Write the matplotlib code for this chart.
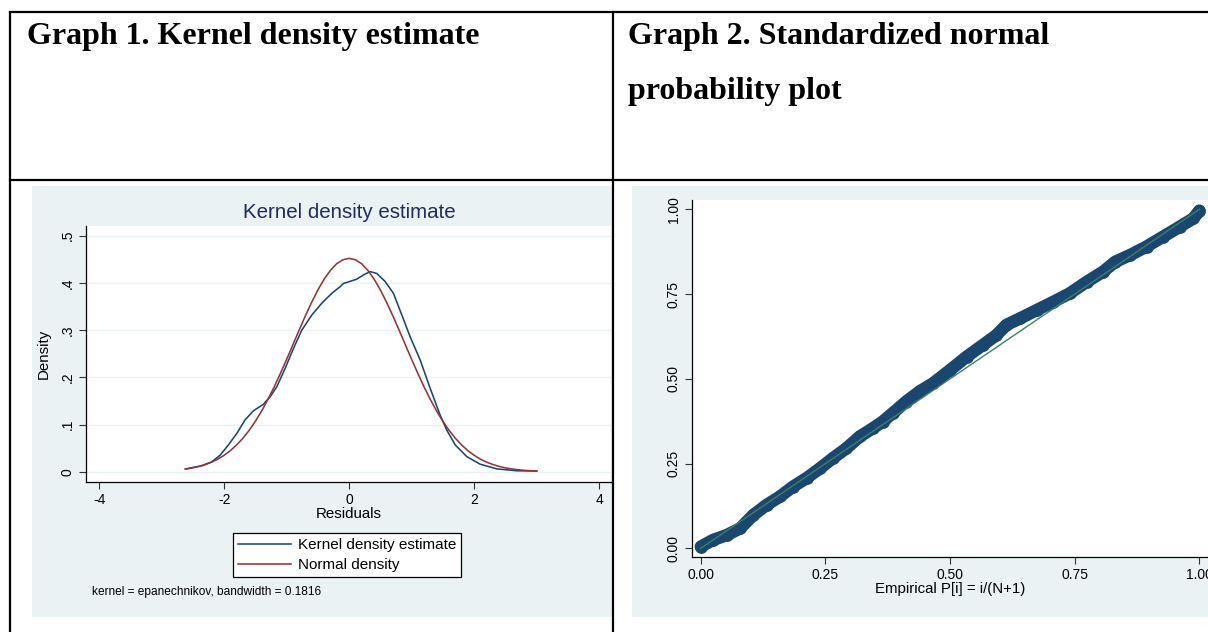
import matplotlib
matplotlib.use('Agg')
import matplotlib.pyplot as plt
from matplotlib.patches import Rectangle
from matplotlib.lines import Line2D

# ---------------- data ----------------
kernel_x = [-2.624, -2.357, -2.197, -2.064, -1.931, -1.797, -1.664, -1.531, -1.371, -1.264, -1.157,
            -1.024, -0.891, -0.757, -0.597, -0.437, -0.277, -0.144, -0.091, -0.037, 0.123, 0.229,
            0.336, 0.443, 0.576, 0.709, 0.843, 0.976, 1.136, 1.296, 1.456, 1.563, 1.696, 1.883,
            2.096, 2.363, 2.683, 3.003]
kernel_y = [0.0057, 0.0127, 0.021, 0.035, 0.057, 0.081, 0.110, 0.129, 0.143, 0.159, 0.180,
            0.219, 0.261, 0.300, 0.332, 0.357, 0.378, 0.392, 0.399, 0.401, 0.408, 0.417,
            0.424, 0.420, 0.403, 0.378, 0.332, 0.286, 0.237, 0.177, 0.120, 0.088, 0.057, 0.032,
            0.016, 0.006, 0.002, 0.0015]

normal_x = [-2.6, -2.5, -2.4, -2.3, -2.2, -2.1, -2.0, -1.9, -1.8, -1.7, -1.6, -1.5, -1.4, -1.3,
            -1.2, -1.1, -1.0, -0.9, -0.8, -0.7, -0.6, -0.5, -0.4, -0.3, -0.2, -0.1, 0.0,
            0.1, 0.2, 0.3, 0.4, 0.5, 0.6, 0.7, 0.8, 0.9, 1.0, 1.1, 1.2, 1.3, 1.4, 1.5, 1.6,
            1.7, 1.8, 1.9, 2.0, 2.1, 2.2, 2.3, 2.4, 2.5, 2.6, 2.7, 2.8, 2.9, 3.0]
normal_y = [0.0059, 0.0082, 0.0112, 0.0152, 0.0203, 0.0267, 0.0348, 0.0447, 0.0566, 0.0708,
            0.0875, 0.1068, 0.1286, 0.1529, 0.1795, 0.2081, 0.2380, 0.2689, 0.2999, 0.3302,
            0.3588, 0.3851, 0.4079, 0.4266, 0.4406, 0.4491, 0.4520,
            0.4491, 0.4406, 0.4266, 0.4079, 0.3851, 0.3588, 0.3302, 0.2999, 0.2689, 0.2380,
            0.2081, 0.1795, 0.1529, 0.1286, 0.1068, 0.0875, 0.0708, 0.0566, 0.0447, 0.0348,
            0.0267, 0.0203, 0.0152, 0.0112, 0.0082, 0.0059, 0.0042, 0.0030, 0.0021, 0.0014]

pp_x = [0.000, 0.025, 0.052, 0.079, 0.105, 0.132, 0.159, 0.185, 0.212, 0.239, 0.265, 0.292, 0.319,
        0.345, 0.365, 0.385, 0.412, 0.439, 0.466, 0.500, 0.533, 0.566, 0.593, 0.613, 0.640, 0.674,
        0.707, 0.740, 0.774, 0.807, 0.831, 0.861, 0.894, 0.927, 0.961, 0.988, 1.000]
pp_y = [0.005, 0.025, 0.039, 0.059, 0.098, 0.128, 0.153, 0.182, 0.207, 0.236, 0.266, 0.295, 0.330,
        0.354, 0.374, 0.399, 0.433, 0.463, 0.487, 0.526, 0.565, 0.600, 0.629, 0.659, 0.678, 0.703,
        0.727, 0.752, 0.786, 0.816, 0.845, 0.865, 0.890, 0.919, 0.949, 0.973, 0.996]
ref_x = [0.0, 1.0]
ref_y = [0.0, 1.0]

k_xticks = [-4, -2, 0, 2, 4]
k_xticklabels = ['-4', '-2', '0', '2', '4']
k_yticks = [0, 0.1, 0.2, 0.3, 0.4, 0.5]
k_yticklabels = ['0', '.1', '.2', '.3', '.4', '.5']
p_ticks = [0, 0.25, 0.5, 0.75, 1.0]
p_ticklabels = ['0.00', '0.25', '0.50', '0.75', '1.00']

header1 = "Graph 1. Kernel density estimate"
header2a = "Graph 2. Standardized normal"
header2b = "probability plot"

# ---------------- style ----------------
W, H = 1208, 632
NAVY = '#1a476f'
MAROON = '#90353b'
GREEN = '#3d7d6b'
BG = '#eaf2f3'
SANS = ['Liberation Sans', 'DejaVu Sans']
SERIF = ['Liberation Serif', 'DejaVu Serif']
TICK_FS = 10
LAB_FS = 10.8

fig = plt.figure(figsize=(W / 100, H / 100), dpi=100)
fig.patch.set_facecolor('white')


def fx(px):
    return px / W


def fy(py):
    return 1 - py / H


def ax_rect(x0, y0, x1, y1):
    return [fx(x0), fy(y1), (x1 - x0) / W, (y1 - y0) / H]


# panel backgrounds
fig.patches.append(Rectangle((fx(32), fy(617)), (612 - 32) / W, (617 - 186) / H,
                             transform=fig.transFigure, facecolor=BG, edgecolor='none', zorder=-5))
fig.patches.append(Rectangle((fx(632), fy(617)), (W - 632) / W, (617 - 186) / H,
                             transform=fig.transFigure, facecolor=BG, edgecolor='none', zorder=-5))

# table lines
lw_tab = 1.6
for (xa, ya, xb, yb) in [(10, 12, W, 12), (10, 180, W, 180), (10, 12, 10, H), (613, 12, 613, H)]:
    fig.add_artist(Line2D([fx(xa), fx(xb)], [fy(ya), fy(yb)], transform=fig.transFigure,
                          color='black', lw=lw_tab, zorder=5))

# headers
HFS = 23
fig.text(fx(27), fy(44), header1, fontfamily=SERIF, fontweight='bold', fontsize=HFS,
         ha='left', va='baseline')
fig.text(fx(628), fy(44), header2a, fontfamily=SERIF, fontweight='bold', fontsize=HFS,
         ha='left', va='baseline')
fig.text(fx(628), fy(99), header2b, fontfamily=SERIF, fontweight='bold', fontsize=HFS,
         ha='left', va='baseline')

# ---------------- left: kernel density ----------------
ax1 = fig.add_axes(ax_rect(86, 226, 611, 482))
ax1.set_zorder(1)
ax1.set_facecolor('white')
ax1.plot(kernel_x, kernel_y, color=NAVY, lw=1.15, label='Kernel density estimate', zorder=3,
         solid_joinstyle='round')
ax1.plot(normal_x, normal_y, color=MAROON, lw=1.15, label='Normal density', zorder=3,
         solid_joinstyle='round')
ax1.set_xlim(-4.21, 4.19)
ax1.set_ylim(-0.0218, 0.5206)
ax1.set_xticks(k_xticks)
ax1.set_xticklabels(k_xticklabels)
ax1.set_yticks(k_yticks)
ax1.set_yticklabels(k_yticklabels, rotation=90, va='center')
for yv in k_yticks:
    ax1.axhline(yv, color=BG, lw=1.0, zorder=1)
for s in ['top', 'right']:
    ax1.spines[s].set_visible(False)
for s in ['left', 'bottom']:
    ax1.spines[s].set_color('black')
    ax1.spines[s].set_linewidth(0.9)
ax1.tick_params(axis='both', direction='out', length=5, width=0.8, color='#333333',
                labelsize=TICK_FS, pad=3)
for t in ax1.get_xticklabels() + ax1.get_yticklabels():
    t.set_fontfamily(SANS)
ax1.set_xlabel('Residuals', fontfamily=SANS, fontsize=LAB_FS, labelpad=0)
ax1.set_ylabel('Density', fontfamily=SANS, fontsize=LAB_FS, labelpad=7)
fig.text(fx(349), fy(213), 'Kernel density estimate', fontfamily=SANS, fontsize=14.8,
         color='#1e2d5a', ha='center', va='center')

handles, labels = ax1.get_legend_handles_labels()
leg = fig.legend(handles, labels, loc='center', bbox_to_anchor=(fx(347), fy(555)),
                 frameon=True, fancybox=False, edgecolor='black', facecolor='white',
                 prop={'family': SANS, 'size': 11}, handlelength=3.5, handletextpad=0.45,
                 borderpad=0.3, labelspacing=0.4, framealpha=1, borderaxespad=0)
leg.get_frame().set_linewidth(0.9)
leg.set_zorder(3)

fig.text(fx(92), fy(592), 'kernel = epanechnikov, bandwidth = 0.1816', fontfamily=SANS,
         fontsize=8.6, ha='left', va='center')

# ---------------- right: P-P plot ----------------
ax2 = fig.add_axes(ax_rect(691.7, 200, W, 557.3))
ax2.set_zorder(1)
ax2.set_facecolor('white')
ax2.plot(pp_x, pp_y, color=NAVY, lw=9.0, solid_capstyle='round', solid_joinstyle='round',
         zorder=3)
ax2.scatter(pp_x, pp_y, s=85, color=NAVY, zorder=3, linewidths=0)
ax2.plot(ref_x, ref_y, color=GREEN, lw=1.0, zorder=4)
ax2.set_xlim(-0.0183, 1.0173)
ax2.set_ylim(-0.0265, 1.0274)
ax2.set_xticks(p_ticks)
ax2.set_xticklabels(p_ticklabels)
ax2.set_yticks(p_ticks)
ax2.set_yticklabels(p_ticklabels, rotation=90, va='center')
for s in ['top', 'right']:
    ax2.spines[s].set_visible(False)
for s in ['left', 'bottom']:
    ax2.spines[s].set_color('black')
    ax2.spines[s].set_linewidth(0.9)
ax2.tick_params(axis='both', direction='out', length=5, width=0.8, color='#333333',
                labelsize=TICK_FS, pad=3)
for t in ax2.get_xticklabels() + ax2.get_yticklabels():
    t.set_fontfamily(SANS)
ax2.set_xlabel('Empirical P[i] = i/(N+1)', fontfamily=SANS, fontsize=LAB_FS, labelpad=0)

fig.savefig('out.png', dpi=100, facecolor='white')
